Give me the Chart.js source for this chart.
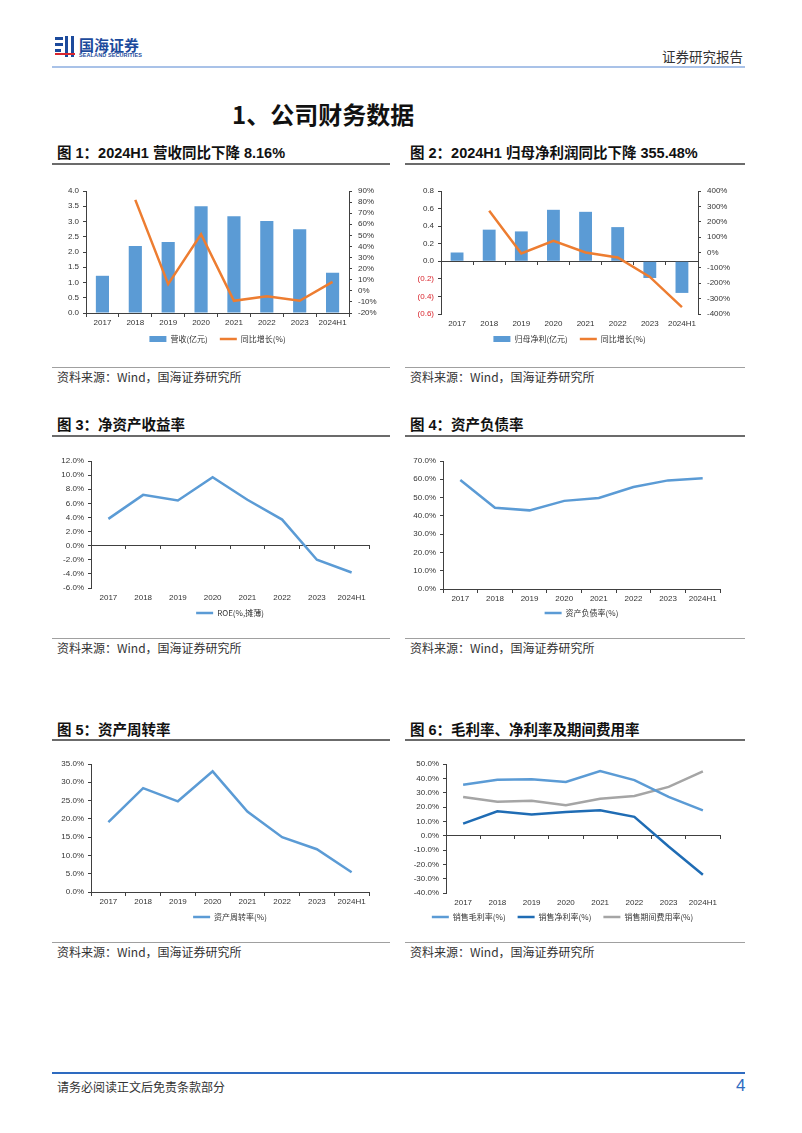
<!DOCTYPE html>
<html><head><meta charset="utf-8">
<script src="https://cdn.jsdelivr.net/npm/chart.js@4.4.0/dist/chart.umd.min.js"></script>
<style>
html,body{margin:0;padding:0;background:#fff}
body{width:802px;height:1133px;position:relative;overflow:hidden;font-family:"Liberation Sans","Noto Sans CJK SC",sans-serif;color:#222}
.a{position:absolute;white-space:nowrap}
.ttl{font-size:14.5px;font-weight:bold;font-family:"Liberation Sans","Noto Sans CJK SC",sans-serif;color:#111;line-height:18px}
.uline{height:1.5px;background:#6b6b6b}
.sline{height:1px;background:#a0a0a0}
.src{font-size:12px;font-family:"Noto Sans CJK SC","Liberation Sans",sans-serif;color:#333;line-height:16px}
canvas{position:absolute}
</style></head><body>

<!-- header -->
<div class="a" style="left:55px;top:37px;width:8px;height:3px;background:#1C4A9C"></div>
<div class="a" style="left:55px;top:43px;width:8px;height:3px;background:#1C4A9C"></div>
<div class="a" style="left:55px;top:49px;width:6px;height:3px;background:#1C4A9C"></div>
<div class="a" style="left:65px;top:36px;width:3px;height:21px;background:#1C4A9C"></div>
<div class="a" style="left:71px;top:36px;width:3px;height:21px;background:#1C4A9C"></div>
<div class="a" style="left:55px;top:53px;width:20px;height:2px;background:#D9262E"></div>
<div class="a" style="left:79px;top:34px;font-size:15px;font-weight:bold;color:#1C4A9C;font-family:'Noto Sans CJK SC'">国海证券</div>
<div class="a" style="left:79px;top:52px;font-size:5.5px;font-weight:bold;color:#1C4A9C;letter-spacing:0.1px">SEALAND SECURITIES</div>
<div class="a" style="left:662px;top:46px;font-size:13.5px;color:#333;font-family:'Noto Sans CJK SC'">证券研究报告</div>
<div class="a" style="left:52px;top:66px;width:693px;height:2px;background:#A9C2E8"></div>

<div class="a" style="left:232px;top:96px;font-size:24px;font-weight:bold;color:#111;font-family:'Noto Sans CJK SC'">1、公司财务数据</div>

<!-- row 1 -->
<div class="a ttl" style="left:57px;top:144px">图 1：2024H1 营收同比下降 8.16%</div>
<div class="a uline" style="left:52px;top:163px;width:338px"></div>
<div class="a ttl" style="left:410px;top:144px">图 2：2024H1 归母净利润同比下降 355.48%</div>
<div class="a uline" style="left:405px;top:163px;width:340px"></div>
<canvas id="c1"></canvas>
<canvas id="c2"></canvas>
<div class="a sline" style="left:52px;top:367px;width:338px"></div>
<div class="a src" style="left:57px;top:369px">资料来源：Wind，国海证券研究所</div>
<div class="a sline" style="left:405px;top:367px;width:340px"></div>
<div class="a src" style="left:410px;top:369px">资料来源：Wind，国海证券研究所</div>

<!-- row 2 -->
<div class="a ttl" style="left:57px;top:416px">图 3：净资产收益率</div>
<div class="a uline" style="left:52px;top:435px;width:338px"></div>
<div class="a ttl" style="left:410px;top:416px">图 4：资产负债率</div>
<div class="a uline" style="left:405px;top:435px;width:340px"></div>
<canvas id="c3"></canvas>
<canvas id="c4"></canvas>
<div class="a sline" style="left:52px;top:638px;width:338px"></div>
<div class="a src" style="left:57px;top:640px">资料来源：Wind，国海证券研究所</div>
<div class="a sline" style="left:405px;top:638px;width:340px"></div>
<div class="a src" style="left:410px;top:640px">资料来源：Wind，国海证券研究所</div>

<!-- row 3 -->
<div class="a ttl" style="left:57px;top:721px">图 5：资产周转率</div>
<div class="a uline" style="left:52px;top:739px;width:338px"></div>
<div class="a ttl" style="left:410px;top:721px">图 6：毛利率、净利率及期间费用率</div>
<div class="a uline" style="left:405px;top:739px;width:340px"></div>
<canvas id="c5"></canvas>
<canvas id="c6"></canvas>
<div class="a sline" style="left:52px;top:942px;width:338px"></div>
<div class="a src" style="left:57px;top:944px">资料来源：Wind，国海证券研究所</div>
<div class="a sline" style="left:405px;top:942px;width:340px"></div>
<div class="a src" style="left:410px;top:944px">资料来源：Wind，国海证券研究所</div>

<!-- footer -->
<div class="a" style="left:52px;top:1072px;width:693px;height:1.5px;background:#2E6BC0"></div>
<div class="a" style="left:57px;top:1078px;font-size:12px;color:#333;font-family:'Noto Sans CJK SC'">请务必阅读正文后免责条款部分</div>
<div class="a" style="left:736px;top:1076px;font-size:17px;color:#2E6BC0">4</div>

<script>
const years = ['2017','2018','2019','2020','2021','2022','2023','2024H1'];
const revenue = [1.22, 2.20, 2.33, 3.50, 3.17, 3.02, 2.75, 1.32];
const revenueYoY = [null, 82, 6, 51, -9, -5, -9, 8];
const netProfit = [0.10, 0.36, 0.34, 0.586, 0.563, 0.389, -0.19, -0.36];
const netProfitYoY = [null, 272, -6, 76, 0, -32, -159, -355];
const roe = [3.8, 7.2, 6.4, 9.7, 6.5, 3.7, -2.0, -3.8];
const debtRatio = [59.6, 44.4, 43.0, 48.2, 49.8, 55.8, 59.4, 60.5];
const assetTurnover = [19.1, 28.4, 24.8, 33.0, 22.0, 15.0, 11.7, 5.4];
const grossMargin = [35.6, 39.0, 39.3, 37.4, 45.1, 38.8, 27.0, 17.6];
const netMargin = [8.4, 17.0, 14.8, 16.5, 17.7, 13.1, -7.6, -27.3];
const expenseRatio = [27.0, 23.7, 24.4, 21.2, 25.8, 27.7, 34.0, 44.9];

const BLUE = '#5B9BD5', ORANGE = '#ED7D31', DBLUE = '#1F6CB4', GRAY = '#A5A5A5';
const AX = '#404040', TXT = '#333333';
const NUMF = '"Liberation Sans","Noto Sans CJK SC",sans-serif';
const CJKF = '"Noto Sans CJK SC","Liberation Sans",sans-serif';
const LEG_PAD = 4;

function yScale(pos, min, max, step, fmt, width, colorFn) {
  return {
    type: 'linear', position: pos, min: min, max: max,
    afterFit: s => { s.width = width; },
    ticks: { stepSize: step, callback: fmt, font: { family: NUMF, size: 8 }, color: colorFn || TXT, padding: pos === 'left' ? 4 : 6, autoSkip: false },
    grid: { drawOnChartArea: false, drawTicks: true, tickLength: 3, color: AX },
    border: { color: AX, width: 1 }
  };
}
function xScales(h) {
  return {
    x: {
      type: 'category', position: 'bottom', offset: true,
      afterFit: s => { s.height = h; },
      grid: { display: false, drawTicks: false }, border: { display: false },
      ticks: { font: { family: NUMF, size: 8 }, color: TXT, padding: 5, maxRotation: 0, autoSkip: false }
    },
    x2: {
      type: 'category', position: { y: 0 }, offset: true,
      grid: { offset: true, drawOnChartArea: false, drawTicks: true, tickLength: 3, color: AX },
      border: { color: AX, width: 1 },
      ticks: { display: false }
    }
  };
}
function legendOpts(full) {
  return {
    position: 'bottom', fullSize: !!full,
    labels: {
      usePointStyle: true, pointStyleWidth: 17, boxHeight: 6, padding: LEG_PAD, color: TXT,
      font: { family: CJKF, size: 8 },
      generateLabels: chart => {
        const items = Chart.defaults.plugins.legend.labels.generateLabels(chart);
        items.sort((p, q) => p.datasetIndex - q.datasetIndex);
        items.forEach((it, i) => { if (i < items.length - 1) it.text += '\u2003'; });
        return items;
      }
    }
  };
}
function lineDs(label, data, color, axis) {
  const d = { type: 'line', label: label, data: data, borderColor: color, backgroundColor: color, borderWidth: 2.5, pointRadius: 0, tension: 0, pointStyle: 'line', order: 1 };
  if (axis) d.yAxisID = axis;
  return d;
}
function barDs(label, data) {
  return { type: 'bar', label: label, data: data, backgroundColor: BLUE, borderWidth: 0, barPercentage: 0.8, categoryPercentage: 0.5, pointStyle: 'rect', yAxisID: 'y', order: 2 };
}
function make(id, cl, cr, ct, plot, legY, datasets, yScales, fullLegend) {
  const c = document.getElementById(id);
  const w = cr - cl, h = legY + 14 - ct;
  c.width = w; c.height = h;
  c.style.left = cl + 'px'; c.style.top = ct + 'px';
  c.style.width = w + 'px'; c.style.height = h + 'px';
  const scales = Object.assign({}, xScales(legY - plot.b - LEG_PAD - 4), yScales);
  const hasRight = !!yScales.y1;
  new Chart(c, {
    data: { labels: years, datasets: datasets },
    options: {
      responsive: false, animation: false, devicePixelRatio: 1,
      layout: { autoPadding: false, padding: { left: 0, top: plot.t - ct, right: hasRight ? 0 : cr - plot.r, bottom: 0 } },
      plugins: { legend: legendOpts(fullLegend), tooltip: { enabled: false } },
      scales: scales
    }
  });
}

const f1 = v => v.toFixed(1);
const fp0 = v => Math.round(v) + '%';
const fp1 = v => v.toFixed(1) + '%';
const fpar = v => v < -1e-9 ? '(' + Math.abs(v).toFixed(1) + ')' : Math.abs(v).toFixed(1);

// Chart 1
make('c1', 55, 400, 180, { l: 86, r: 349, t: 191, b: 313 }, 339,
  [barDs('营收(亿元)', revenue), lineDs('同比增长(%)', revenueYoY, ORANGE, 'y1')],
  { y: yScale('left', 0, 4, 0.5, f1, 31), y1: yScale('right', -20, 90, 10, fp0, 51) });

// Chart 2
make('c2', 410, 745, 180, { l: 441, r: 698, t: 191, b: 314 }, 339,
  [barDs('归母净利(亿元)', netProfit), lineDs('同比增长(%)', netProfitYoY, ORANGE, 'y1')],
  { y: yScale('left', -0.6, 0.8, 0.2, fpar, 31, ctx => ctx.tick && ctx.tick.value < -1e-9 ? '#D9262E' : TXT),
    y1: yScale('right', -400, 400, 100, fp0, 47) });

// Chart 3
make('c3', 55, 390, 450, { l: 91, r: 369, t: 461, b: 588 }, 613,
  [lineDs('ROE(%,摊薄)', roe, BLUE)],
  { y: yScale('left', -6, 12, 2, fp1, 36) });

// Chart 4
make('c4', 405, 745, 450, { l: 443, r: 720, t: 461, b: 589 }, 613,
  [lineDs('资产负债率(%)', debtRatio, BLUE)],
  { y: yScale('left', 0, 70, 10, fp1, 38) });

// Chart 5
make('c5', 55, 390, 753, { l: 91, r: 369, t: 764, b: 892 }, 917,
  [lineDs('资产周转率(%)', assetTurnover, BLUE)],
  { y: yScale('left', 0, 35, 5, fp1, 36) });

// Chart 6
make('c6', 405, 745, 753, { l: 446, r: 720, t: 764, b: 893 }, 917,
  [lineDs('销售毛利率(%)', grossMargin, BLUE), lineDs('销售净利率(%)', netMargin, DBLUE), lineDs('销售期间费用率(%)', expenseRatio, GRAY)],
  { y: yScale('left', -40, 50, 10, fp1, 41) }, true);
</script>
</body></html>
